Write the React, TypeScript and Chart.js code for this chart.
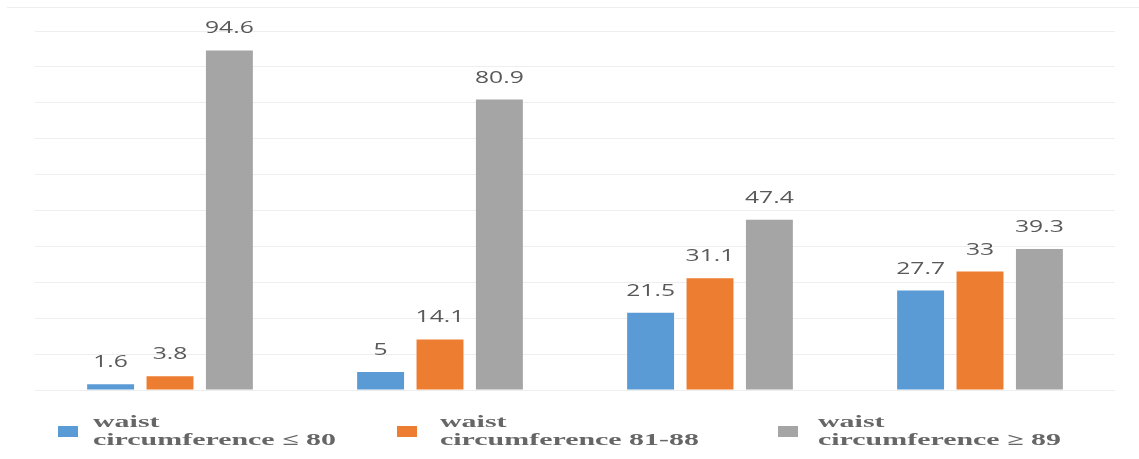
import React, { useEffect, useRef } from "react";
import { Chart, registerables } from "chart.js";

Chart.register(...registerables);

const categories = ["Group 1", "Group 2", "Group 3", "Group 4"];
const seriesLabels = [
  ["waist", "circumference ≤ 80"],
  ["waist", "circumference 81-88"],
  ["waist", "circumference ≥ 89"],
];
const waistLe80 = [1.6, 5, 21.5, 27.7];
const waist81to88 = [3.8, 14.1, 31.1, 33];
const waistGe89 = [94.6, 80.9, 47.4, 39.3];
const seriesColors = ["#5B9BD5", "#ED7D31", "#A5A5A5"];

const valueLabelPlugin = {
  id: "valueLabels",
  afterDatasetsDraw(chart: any) {
    const ctx = chart.ctx;
    ctx.save();
    ctx.fillStyle = "#595959";
    ctx.font = '17px "Open Sans"';
    ctx.textAlign = "center";
    ctx.textBaseline = "alphabetic";
    chart.data.datasets.forEach((ds: any, di: number) => {
      const meta = chart.getDatasetMeta(di);
      meta.data.forEach((el: any, i: number) => {
        const v = ds.data[i];
        ctx.save();
        ctx.translate(el.x, el.y - 17);
        ctx.scale(1.45, 1);
        ctx.fillText(String(v), 0, 0);
        ctx.restore();
      });
    });
    ctx.restore();
  },
};

const customLegendPlugin = {
  id: "customLegend",
  afterDraw(chart: any) {
    const ctx = chart.ctx;
    const boxX = [58, 397, 778];
    const textX = [93, 440, 818];
    ctx.save();
    // top frame line
    ctx.strokeStyle = "#eeeeee";
    ctx.lineWidth = 1;
    ctx.beginPath();
    ctx.moveTo(7, 7.5);
    ctx.lineTo(chart.width, 7.5);
    ctx.stroke();
    chart.data.datasets.forEach((ds: any, di: number) => {
      ctx.fillStyle = ds.backgroundColor;
      ctx.fillRect(boxX[di], 426, 20, 11);
      ctx.fillStyle = "#666666";
      ctx.font = 'bold 17px "Liberation Serif"';
      ctx.textAlign = "left";
      ctx.textBaseline = "alphabetic";
      const lines: string[] = ds.labelLines;
      lines.forEach((line: string, li: number) => {
        ctx.save();
        ctx.translate(textX[di], 427 + li * 18);
        ctx.scale(1.76, 1);
        ctx.fillText(line, 0, 0);
        ctx.restore();
      });
    });
    ctx.restore();
  },
};

export default function App() {
  const canvasRef = useRef<HTMLCanvasElement | null>(null);

  useEffect(() => {
    if (!canvasRef.current) return;
    const values = [waistLe80, waist81to88, waistGe89];
    const chart = new Chart(canvasRef.current, {
      type: "bar",
      data: {
        labels: categories,
        datasets: values.map((d, i) => ({
          label: seriesLabels[i].join(" "),
          labelLines: seriesLabels[i],
          data: d,
          backgroundColor: seriesColors[i],
          borderWidth: 0,
          categoryPercentage: 0.66,
          barPercentage: 0.79,
        })) as any,
      },
      options: {
        animation: false,
        responsive: true,
        maintainAspectRatio: false,
        layout: { padding: { left: 35, right: 24, top: 31, bottom: 69 } },
        plugins: {
          legend: { display: false },
          tooltip: { enabled: false },
        },
        scales: {
          x: {
            display: false,
            grid: { display: false },
          },
          y: {
            min: 0,
            max: 100,
            ticks: { display: false, stepSize: 10 },
            border: { display: false },
            grid: { color: "#eeeeee", drawTicks: false, lineWidth: 1 },
          },
        },
      },
      plugins: [valueLabelPlugin, customLegendPlugin],
    });
    return () => chart.destroy();
  }, []);

  return (
    <div style={{ position: "fixed", left: 0, top: 0, width: 1139, height: 459, background: "#fff" }}>
      <canvas ref={canvasRef} />
    </div>
  );
}
